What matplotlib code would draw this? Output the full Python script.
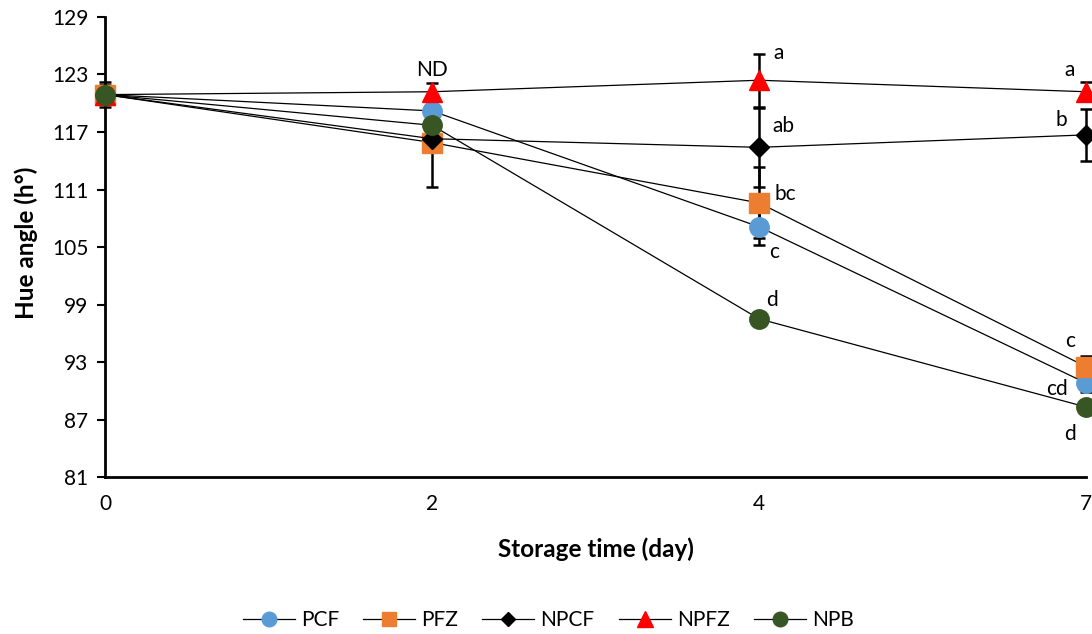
import matplotlib.pyplot as plt
import numpy as np

plt.rcParams['font.family'] = ['Lato', 'DejaVu Sans']

days = ['0', '2', '4', '7']
series = ['PCF', 'PFZ', 'NPCF', 'NPFZ', 'NPB']

pcf = [120.9, 119.2, 107.1, 90.8]
pfz = [120.9, 115.9, 109.6, 92.5]
npcf = [120.9, 116.3, 115.4, 116.7]
npfz = [120.9, 121.2, 122.4, 121.2]
npb = [120.9, 117.7, 97.5, 88.3]

pcf_err = [0.5, 0.5, 1.9, 0.9]
pfz_err = [1.3, 4.6, 3.7, 1.1]
npcf_err = [0.5, 0.8, 4.1, 2.7]
npfz_err = [1.0, 0.9, 2.75, 1.0]
npb_err = [0.3, 0.3, 0.3, 0.3]

# significance letters: (day index, y value, text, x shift)
letters = [(1, 123.5, 'ND', 0.0),
           (2, 125.2, 'a', 0.06), (2, 117.6, 'ab', 0.075), (2, 110.5, 'bc', 0.08),
           (2, 104.5, 'c', 0.045), (2, 99.5, 'd', 0.04),
           (3, 123.5, 'a', -0.05), (3, 118.3, 'b', -0.075), (3, 95.2, 'c', -0.05),
           (3, 90.2, 'cd', -0.09), (3, 85.5, 'd', -0.05)]

styles = {
    'PCF': dict(marker='o', color='#5B9BD5', ms=14),
    'PFZ': dict(marker='s', color='#ED7D31', ms=14),
    'NPCF': dict(marker='D', color='black', ms=10),
    'NPFZ': dict(marker='^', color='#FF0000', ms=15),
    'NPB': dict(marker='o', color='#375623', ms=14),
}

fig = plt.figure(figsize=(10.92, 6.34), dpi=100)
ax = fig.add_axes([0.0962, 0.2476, 0.8985, 0.7256])

x = np.arange(len(days))
data = [pcf, pfz, npcf, npfz, npb]
errs = [pcf_err, pfz_err, npcf_err, npfz_err, npb_err]

for y, e in zip(data, errs):
    ax.errorbar(x, y, yerr=e, fmt='none', ecolor='black', elinewidth=1.8,
                capsize=4.5, capthick=1.8, zorder=2, clip_on=False)
for i, (name, y) in enumerate(zip(series, data)):
    st = styles[name]
    ax.plot(x, y, color='black', lw=0.9, marker=st['marker'], ms=st['ms'],
            mfc=st['color'], mec=st['color'], label=name, zorder=3 + i, clip_on=False)

for d, v, t, dx in letters:
    ax.text(d + dx, v, t, ha='center', va='center', fontsize=15)

ax.set_xlim(0, 3)
ax.set_ylim(81, 129)
ax.set_yticks(np.arange(81, 130, 6))
ax.set_xticks(x)
ax.set_xticklabels(days)
ax.tick_params(axis='x', length=0, pad=12, labelsize=15)
ax.tick_params(axis='y', length=6, width=1.5, labelsize=15, pad=6, direction='out')
for s in ['top', 'right']:
    ax.spines[s].set_visible(False)
for s in ['left', 'bottom']:
    ax.spines[s].set_linewidth(2)

ax.set_xlabel('Storage time (day)', fontsize=17.5, fontweight='bold', labelpad=17)
ax.set_ylabel('Hue angle (h°)', fontsize=17.5, fontweight='bold')
ax.yaxis.set_label_coords(-0.068, 0.51)

handles, labels = ax.get_legend_handles_labels()
fig.legend(handles, labels, loc='center', bbox_to_anchor=(0.502, 0.022), ncol=5,
           frameon=False, fontsize=15, markerscale=0.75, handlelength=2.5,
           columnspacing=1.15, handletextpad=0.3)

fig.savefig('out.png', dpi=100)
